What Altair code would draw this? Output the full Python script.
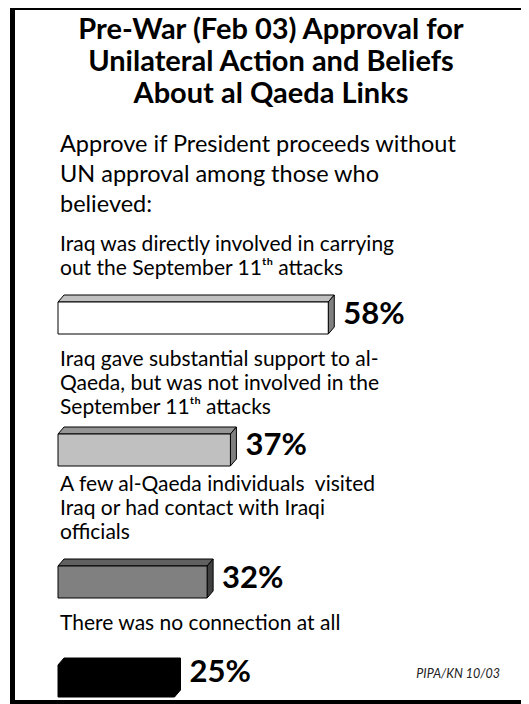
import altair as alt
import pandas as pd

# ---------------- data ----------------
title_lines = ["Pre-War (Feb 03) Approval for",
               "Unilateral Action and Beliefs",
               "About al Qaeda Links"]
subtitle_lines = ["Approve if President proceeds without",
                  "UN approval among those who",
                  "believed:"]
categories = ["direct", "support", "contact", "none"]
category_labels = [
    ["Iraq was directly involved in carrying", "out the September 11ᵗʰ attacks"],
    ["Iraq gave substantial support to al-", "Qaeda, but was not involved in the",
     "September 11ᵗʰ attacks"],
    ["A few al-Qaeda individuals\u00a0 visited", "Iraq or had contact with Iraqi", "officials"],
    ["\u00a0There was no connection at all"],
]
approve_pct = [58, 37, 32, 25]
source_note = "PIPA/KN 10/03"

# ---------------- style / layout ----------------
FONT = "Lato"
W, H = 513, 696
X0, PX = 50, 4.66            # x scale: left edge and pixels per percent
BAR_H = 32
DX, DY = 6, 7                # 3-D depth in pixels
TOP0 = 294
LINE_H = 24
label_gap = [33, 26, 33, 41]      # gap from last label line to its bar (px)
value_dy = [13, 12, 13, 8]        # value label centre below bar top (px)
front_colors = ["#ffffff", "#c0c0c0", "#808080", "#000000"]
top_colors = ["#c0c0c0", "#969696", "#606060", "#000000"]
side_colors = ["#808080", "#808080", "#404040", "#000000"]

xs = alt.Scale(domain=[0, 100], range=[X0, X0 + 100 * PX])
ys = alt.Scale(domain=[0, H], range=[0, H])

# bar top positions follow the number of label lines of each block
tops = [TOP0]
for i in range(1, len(categories)):
    tops.append(tops[-1] + 82.5 + 16.5 * len(category_labels[i]))

dxu = DX / PX
bars = pd.DataFrame({"cat": categories, "value": approve_pct})
bars["zero"] = 0
bars["top"] = tops
bars["bottom"] = bars["top"] + BAR_H
bars["ly"] = [t + d for t, d in zip(tops, value_dy)]
bars["txt"] = bars["value"].astype(str) + "%"

top_rows, side_rows = [], []
for c, v, t in zip(categories, approve_pct, tops):
    top_rows += [{"cat": c, "y": t - DY, "xa": dxu, "xb": v + dxu},
                 {"cat": c, "y": t, "xa": 0, "xb": v}]
    side_rows += [{"cat": c, "x": v, "ya": t, "yb": t + BAR_H},
                  {"cat": c, "x": v + dxu, "ya": t - DY, "yb": t + BAR_H - DY}]
top_df = pd.DataFrame(top_rows)
side_df = pd.DataFrame(side_rows)

label_rows = []
for lines, t, g in zip(category_labels, tops, label_gap):
    n = len(lines)
    for j, ln in enumerate(lines):
        label_rows.append({"line": ln, "y": t - g - LINE_H * (n - 1 - j)})
label_df = pd.DataFrame(label_rows)

title_df = pd.DataFrame({"line": title_lines, "y": [22 + 32 * i for i in range(len(title_lines))]})
sub_df = pd.DataFrame({"line": subtitle_lines, "y": [137 + 30 * i for i in range(len(subtitle_lines))]})


def fill(colors):
    return alt.Fill("cat:N", scale=alt.Scale(domain=categories, range=colors), legend=None)


one = pd.DataFrame({"a": [0]})

frame_left = alt.Chart(one).mark_rule(color="black", strokeWidth=5).encode(
    x=alt.value(4.5), y=alt.value(0), y2=alt.value(H))
frame_top = alt.Chart(one).mark_rule(color="black", strokeWidth=4).encode(
    x=alt.value(2), x2=alt.value(W), y=alt.value(0))
frame_bottom = alt.Chart(one).mark_rule(color="black", strokeWidth=4).encode(
    x=alt.value(2), x2=alt.value(W), y=alt.value(H - 2))

title = alt.Chart(title_df).mark_text(
    font=FONT, fontSize=29, fontWeight="bold", align="center", baseline="middle", color="black"
).encode(x=alt.value(263), y=alt.Y("y:Q", scale=ys, axis=None), text="line:N")

subtitle = alt.Chart(sub_df).mark_text(
    font=FONT, fontSize=23.5, align="left", baseline="middle", color="black"
).encode(x=alt.value(52), y=alt.Y("y:Q", scale=ys, axis=None), text="line:N")

labels = alt.Chart(label_df).mark_text(
    font=FONT, fontSize=21, align="left", baseline="middle", color="black"
).encode(x=alt.value(52), y=alt.Y("y:Q", scale=ys, axis=None), text="line:N")

top_face = alt.Chart(top_df).mark_area(orient="horizontal", stroke="black", strokeWidth=1).encode(
    y=alt.Y("y:Q", scale=ys, axis=None),
    x=alt.X("xa:Q", scale=xs, axis=None), x2="xb:Q",
    detail="cat:N", fill=fill(top_colors))

side_face = alt.Chart(side_df).mark_area(orient="vertical", stroke="black", strokeWidth=1).encode(
    x=alt.X("x:Q", scale=xs, axis=None),
    y=alt.Y("ya:Q", scale=ys, axis=None), y2="yb:Q",
    detail="cat:N", fill=fill(side_colors))

front = alt.Chart(bars).mark_rect(stroke="black", strokeWidth=1).encode(
    x=alt.X("zero:Q", scale=xs, axis=None), x2="value:Q",
    y=alt.Y("top:Q", scale=ys, axis=None), y2="bottom:Q",
    fill=fill(front_colors))

values = alt.Chart(bars).mark_text(
    font=FONT, fontSize=31, fontWeight="bold", align="left", baseline="middle", dx=15, color="black"
).encode(x=alt.X("value:Q", scale=xs, axis=None), y=alt.Y("ly:Q", scale=ys, axis=None), text="txt:N")

note = alt.Chart(one).mark_text(
    font=FONT, fontSize=12.5, fontStyle="italic", align="right", baseline="middle", color="#222222"
).encode(x=alt.value(492), y=alt.value(666), text=alt.value(source_note))

chart = alt.layer(
    frame_left, frame_top, frame_bottom, title, subtitle, labels,
    top_face, side_face, front, values, note
).resolve_scale(
    fill="independent"
).properties(
    width=W, height=H, padding=0, autosize=alt.AutoSizeParams(type="none")
).configure_view(stroke=None)

chart.save("out.html", embed_options={"renderer": "svg", "actions": False})
